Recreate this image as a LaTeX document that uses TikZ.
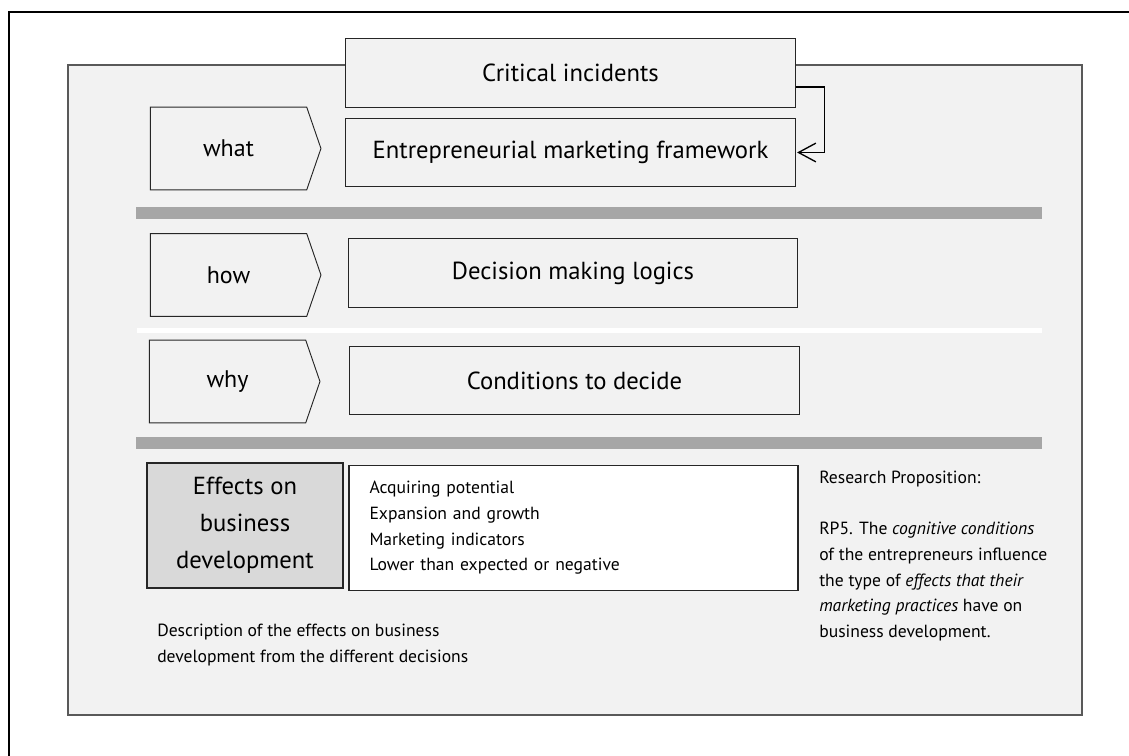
\documentclass[tikz,border=0pt]{standalone}
\usepackage{fontspec}
\setmainfont{PT Sans}
\usetikzlibrary{shapes.symbols,arrows.meta}
\definecolor{panelgray}{HTML}{F2F2F2}
\definecolor{bargray}{HTML}{A6A6A6}
\definecolor{effgray}{HTML}{D9D9D9}
\definecolor{edgegray}{HTML}{262626}

\tikzset{
	topicbox/.style={draw=edgegray,fill=panelgray,line width=0.9pt,inner sep=0pt,
		minimum width=337pt,minimum height=51.5pt,font=\fontsize{18.5}{22}\selectfont},
	askarrow/.style={signal,signal to=east,signal pointer angle=142,draw=edgegray,fill=panelgray,
		line width=0.7pt,inner sep=0pt,minimum width=128pt,minimum height=62pt,font=\fontsize{18}{22}\selectfont},
	smalltext/.style={inner sep=0pt,align=left,font=\fontsize{13.2}{19.2}\selectfont},
}

\begin{document}
\begin{tikzpicture}[x=0.75pt,y=-0.75pt]
	\useasboundingbox (0,0) rectangle (1129,756);
	\draw[line width=1.4pt] (9,756) |- (1129,12);
	\draw[fill=panelgray,draw=black!65,line width=0.8pt] (68,65) rectangle (1082,715);

	% what / how / why
	\node[topicbox] (ci) at (570.5,73) {Critical incidents};
	\node[topicbox] (emf) at (570.5,152.5) {Entrepreneurial marketing framework};
	\node[topicbox] (dml) at (573,273) {Decision making logics};
	\node[topicbox] (ctd) at (574.5,380.5) {Conditions to decide};
	\node[askarrow] (what) at (228.5,148.5) {what};
	\node[askarrow] (how) at (228.5,275) {how};
	\node[askarrow] (why) at (227.5,381.5) {why};
	\draw[-{Straight Barb[length=13pt,width=14pt]},line width=1pt,shorten >=1pt] ([yshift=-10.5pt]ci.east) -- ++(29,0) |- (emf.east);

	\fill[bargray] (136,207) rectangle (1042,219);
	\fill[white] (137,328) rectangle (1042,333);
	\fill[bargray] (136,437) rectangle (1042,449);

	% effects
	\node[draw=edgegray,fill=effgray,line width=0.9pt,minimum width=147pt,minimum height=93.75pt,align=center,
		font=\fontsize{18.5}{27.75}\selectfont] (effects) at (245,525.5) {Effects on\\business\\development};
	\node[draw=edgegray,fill=white,line width=0.9pt,minimum width=336.75pt,minimum height=93.75pt,
		inner xsep=15pt,text width=306pt,align=left,font=\fontsize{13.2}{19.2}\selectfont] (kinds) at (573.5,528)
		{Acquiring potential\\Expansion and growth\\Marketing indicators\\Lower than expected or negative};
	\node[smalltext,anchor=north west] (desc) at (157,624) {Description of the effects on business\\development from the different decisions};
	\node[smalltext,anchor=north west] (rp) at (819,471) {Research Proposition:\\[19.2pt]RP5. The \textit{cognitive conditions}\\of the entrepreneurs influence\\the type of \textit{effects that their}\\\textit{marketing practices} have on\\business development.};
\end{tikzpicture}
\end{document}
